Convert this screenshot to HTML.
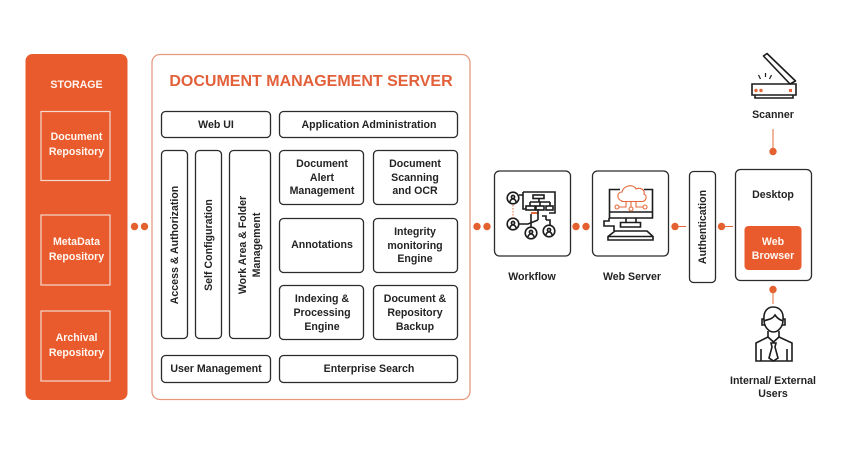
<!DOCTYPE html>
<html><head><meta charset="utf-8"><style>
html,body{margin:0;padding:0;background:#fff;width:843px;height:454px;overflow:hidden}
svg{display:block}
text{font-family:"Liberation Sans",sans-serif;font-weight:700;font-size:10.6px;fill:#232323;text-anchor:middle}
.b{fill:#fff;stroke:#2b2b2b;stroke-width:1.3}
.w{fill:#fff8f2;font-size:10.6px}
.s{fill:none;stroke:#f5d9cc;stroke-width:1.2}
.d{fill:#e5602f}
.i{fill:none;stroke:#1c1c1c;stroke-width:1.6}
.o{fill:none;stroke:#e5683a;stroke-width:1.1}
</style></head><body>
<svg width="843" height="454" viewBox="0 0 843 454" xmlns="http://www.w3.org/2000/svg">
<rect width="843" height="454" fill="#fff"/>
<rect x="25.500" y="54" width="102" height="346" rx="7" fill="#e95b2d"/>
<text x="76.500" y="88" class="w">STORAGE</text>
<rect x="41" y="111.500" width="69" height="69" class="s"/>
<rect x="41" y="215" width="69" height="70" class="s"/>
<rect x="41" y="311" width="69" height="70" class="s"/>
<text x="76.500" y="140" class="w">Document</text><text x="76.500" y="155" class="w">Repository</text>
<text x="76.500" y="245" class="w">MetaData</text><text x="76.500" y="260" class="w">Repository</text>
<text x="76.500" y="341" class="w">Archival</text><text x="76.500" y="356" class="w">Repository</text>

<rect x="152" y="54.500" width="318" height="345" rx="8" fill="#fff" stroke="#e59a80" stroke-width="1.300"/>
<text x="311" y="86" style="font-size:16px;fill:#e2603a">DOCUMENT MANAGEMENT SERVER</text>

<rect x="161.500" y="111.500" width="109" height="26" rx="4" class="b"/><text x="216" y="128">Web UI</text>
<rect x="279.500" y="111.500" width="178" height="26" rx="4" class="b"/><text x="369" y="128">Application Administration</text>
<rect x="161.500" y="150.500" width="26" height="188" rx="4" class="b"/>
<rect x="195.500" y="150.500" width="26" height="188" rx="4" class="b"/>
<rect x="229.500" y="150.500" width="41" height="188" rx="4" class="b"/>
<text transform="translate(178,245) rotate(-90)">Access &amp; Authorization</text>
<text transform="translate(212,245) rotate(-90)">Self Configuration</text>
<text transform="translate(246,245) rotate(-90)">Work Area &amp; Folder</text>
<text transform="translate(260,245) rotate(-90)">Management</text>

<rect x="279.500" y="150.500" width="84" height="54" rx="4" class="b"/>
<text x="322" y="167">Document</text><text x="322" y="181">Alert</text><text x="322" y="194">Management</text>
<rect x="373.500" y="150.500" width="84" height="54" rx="4" class="b"/>
<text x="415" y="167">Document</text><text x="415" y="181">Scanning</text><text x="415" y="194">and OCR</text>
<rect x="279.500" y="218.500" width="84" height="54" rx="4" class="b"/>
<text x="322" y="248">Annotations</text>
<rect x="373.500" y="218.500" width="84" height="54" rx="4" class="b"/>
<text x="415" y="235">Integrity</text><text x="415" y="249">monitoring</text><text x="415" y="262">Engine</text>
<rect x="279.500" y="285.500" width="84" height="54" rx="4" class="b"/>
<text x="322" y="302">Indexing &amp;</text><text x="322" y="316">Processing</text><text x="322" y="330">Engine</text>
<rect x="373.500" y="285.500" width="84" height="54" rx="4" class="b"/>
<text x="415" y="302">Document &amp;</text><text x="415" y="316">Repository</text><text x="415" y="330">Backup</text>
<rect x="161.500" y="355.500" width="109" height="27" rx="4" class="b"/><text x="216" y="372">User Management</text>
<rect x="279.500" y="355.500" width="178" height="27" rx="4" class="b"/><text x="369" y="372">Enterprise Search</text>

<circle class="d" cx="134.500" cy="226.500" r="3.700"/><circle class="d" cx="144.500" cy="226.500" r="3.700"/>
<circle class="d" cx="477" cy="226.500" r="3.700"/><circle class="d" cx="487" cy="226.500" r="3.700"/>
<circle class="d" cx="576" cy="226.500" r="3.700"/><circle class="d" cx="586" cy="226.500" r="3.700"/>
<circle class="d" cx="675" cy="226.500" r="3.700"/><path d="M675 226.500H686" stroke="#e5683a" stroke-width="1"/>
<circle class="d" cx="721.500" cy="226.500" r="3.700"/><path d="M721.500 226.500H733" stroke="#e5683a" stroke-width="1"/>
<circle class="d" cx="773" cy="151.500" r="3.700"/><path d="M773 129V151" stroke="#e5683a" stroke-width="1"/>
<circle class="d" cx="773" cy="289.500" r="3.700"/><path d="M773 289V304" stroke="#e5683a" stroke-width="1"/>

<rect x="494.500" y="171" width="76" height="85" rx="5" class="b"/>
<rect x="592.500" y="171" width="76" height="85" rx="5" class="b"/>
<rect x="689.500" y="171.500" width="26" height="111" rx="4" class="b"/>
<rect x="735.500" y="169.500" width="76" height="111" rx="5" class="b"/>
<rect x="744.500" y="226" width="57" height="44" rx="4" fill="#e95b2d"/>
<text x="532" y="280">Workflow</text><text x="632" y="280">Web Server</text>
<text transform="translate(706,227) rotate(-90)">Authentication</text>
<text x="773" y="198">Desktop</text>
<text x="773" y="245" class="w">Web</text><text x="773" y="259" class="w">Browser</text>
<text x="773" y="118">Scanner</text>
<text x="773" y="384">Internal/ External</text><text x="773" y="397">Users</text>

<!-- workflow icon -->
<g class="i">
<circle cx="513" cy="198" r="5.800"/><circle cx="513" cy="224" r="5.800"/><circle cx="531" cy="233" r="5.800"/><circle cx="549" cy="231" r="5.800"/>
<circle cx="513" cy="197" r="1.600"/><circle cx="513" cy="223" r="1.600"/><circle cx="531" cy="232" r="1.600"/><circle cx="549" cy="230" r="1.600"/>
<path d="M510 202a3 3 0 0 1 6 0M510 228a3 3 0 0 1 6 0M528 237a3 3 0 0 1 6 0M546 235a3 3 0 0 1 6 0"/>
<path d="M519 195H523M523 192H555V213H549M523 192V209H526M519 224H528L538 220M538 209V220M531 214V227M531 213H538M546 220H550V225M542 216H546V220"/>
<rect x="533" y="195" width="11" height="3.500"/>
<path d="M539 199V202M530 202H550M530 202V206M540 202V206M550 202V206"/>
<rect x="526" y="206" width="9" height="4"/><rect x="536" y="206" width="8" height="4"/><rect x="546" y="206" width="7" height="4"/>
</g>
<path d="M513 205V218" stroke="#e5683a" stroke-width="1" stroke-dasharray="1.500 1.500"/>
<rect x="531" y="212" width="6" height="2" fill="#e5683a"/>

<!-- web server icon -->
<g class="i">
<path d="M620 189.500H609.500V218H652.500V189.500H644M610 212H652"/>
<path d="M626 218V222M636 218V222M620.500 222.500H640.500V227H620.500ZM615 231H647L653 236.500V240H608V236.500ZM608 236.500H653"/>
<path d="M609 218V221H604V226H614V231"/>
</g>
<g class="o">
<path d="M622 201C616 199 617 192 622 192C623 186 633 183 636 189C641 187 645 190 644 194C648 196 646 202 641 201.500H622Z"/>
<path d="M619 207H626V202M631 202V207M643 207H636V202"/>
<circle cx="617" cy="207" r="2"/><circle cx="631" cy="209" r="2"/><circle cx="645" cy="207" r="2"/>
</g>

<!-- scanner icon -->
<g class="i">
<path d="M763.500 56L767 53.500L795.500 81L790 84Z" stroke-linejoin="round"/>
<path d="M752 84H796V95H752ZM755 95V98H793V95"/>
<path d="M758.500 75L760.500 79M765.500 73V77M771.500 75L769.500 79" stroke-width="1.200"/>
</g>
<g fill="#e5683a"><circle cx="756" cy="90.500" r="1.700"/><circle cx="761" cy="90.500" r="1.700"/><rect x="789" y="89" width="3" height="3"/></g>

<!-- user icon -->
<g class="i">
<path d="M764 320C763 311 768 307 773 307C779 307 784 311 783 320C783 327 778 332 773.500 332C769 332 764 327 764 320Z"/>
<path d="M764 321C768 319 772 320 775 315C777 318 780 320 783 321M764 319H762V325H764.500M783 319H785V325H782.500"/>
<path d="M768 331V337L756 343V361H792V343L779 337V331"/>
<path d="M768 337L773.500 342L779 337M771 343H776L775 347L778 358L773.500 361L769 358L772 347ZM761 349V361M787 349V361"/>
</g>
</svg>
</body></html>
